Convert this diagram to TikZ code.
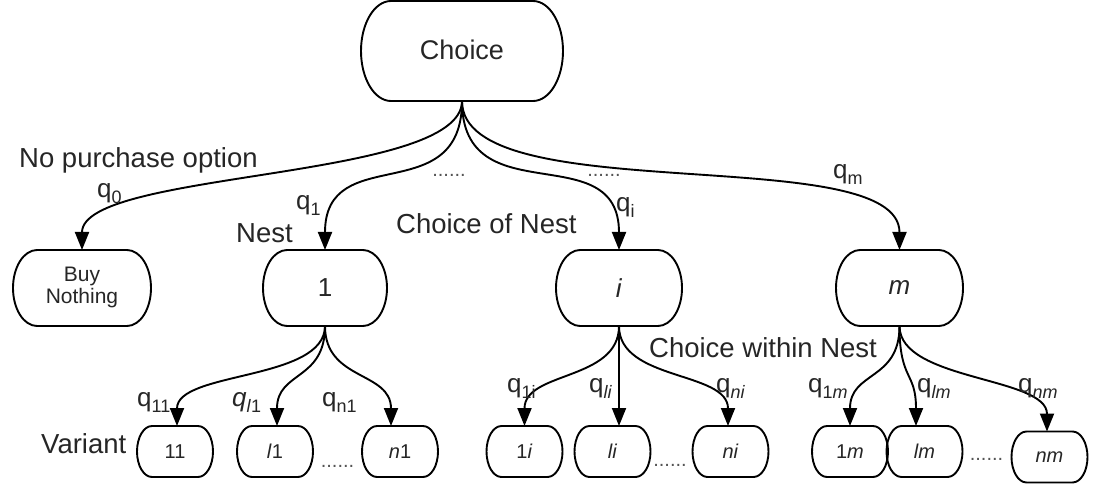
\documentclass[tikz,border=0pt]{standalone}
\usepackage{fontspec}
\setmainfont{Liberation Sans}
\usetikzlibrary{arrows.meta}
\definecolor{txt}{HTML}{262626}
\definecolor{dotc}{HTML}{555555}
\newcommand\sbs[1]{\raisebox{-6pt}{\fontsize{18}{20}\selectfont #1}}
% outline with half-elliptical ends: node name, x radius, y radius
\newcommand\eshape[3]{%
  \draw[boxline] ([xshift=#2]#1.north west) -- ([xshift=-#2]#1.north east)
    arc[start angle=90,end angle=-90,x radius=#2,y radius=#3]
    -- ([xshift=#2]#1.south west)
    arc[start angle=270,end angle=90,x radius=#2,y radius=#3] -- cycle;}
\begin{document}
\begin{tikzpicture}[x=1pt,y=-1pt,
  boxline/.style={draw=black, line width=1.9pt, line join=round},
  bigbox/.style={outer sep=0pt, minimum width=202pt, minimum height=100pt, inner sep=0pt, font=\fontsize{27}{32}\selectfont, text=txt},
  nestbox/.style={outer sep=0pt, minimum height=76pt, inner sep=0pt, font=\fontsize{26}{30}\selectfont, text=txt},
  varbox/.style={outer sep=0pt, minimum width=76pt, minimum height=51pt, inner sep=0pt, font=\fontsize{20}{24}\selectfont, text=txt},
  lbl/.style={inner sep=0pt, anchor=base west, font=\fontsize{27.5}{32}\selectfont, text=txt},
  qlab/.style={inner sep=0pt, anchor=base west, font=\fontsize{26}{30}\selectfont, text=txt},
  dotlab/.style={inner sep=0pt, anchor=base, font=\fontsize{20}{24}\selectfont, text=dotc},
  arr/.style={line width=1.9pt, -{Triangle[length=18pt,width=14pt]}}
]
\fill[white] (0,0) rectangle (1108,486);
\useasboundingbox (0,0) rectangle (1108,486);

% main nodes
\node[bigbox] (choice) at (462,51) {\raisebox{3pt}{Choice}};
\node[nestbox, minimum width=138pt, align=center, font=\fontsize{21}{25}\selectfont] (buy) at (82,288) {\raisebox{5pt}{\shortstack{Buy\\[-1pt]Nothing}}};
\node[nestbox, minimum width=124pt] (nest1) at (325,288) {1};
\node[nestbox, minimum width=126pt] (nesti) at (619,288) {\textit{i}};
\node[nestbox, minimum width=127pt] (nestm) at (899.5,288) {\textit{m}};

% variants
\node[varbox] (v11) at (175,451.5) {11};
\node[varbox] (vl1) at (275,451.5) {\textit{l}1};
\node[varbox] (vn1) at (400,451.5) {\textit{n}1};
\node[varbox] (v1i) at (524.5,451.5) {1\textit{i}};
\node[varbox] (vli) at (612.5,451.5) {\textit{li}};
\node[varbox] (vni) at (730.5,451.5) {\textit{ni}};
\node[varbox] (v1m) at (850,451.5) {1\textit{m}};
\node[varbox] (vlm) at (924.5,451.5) {\textit{lm}};
\node[varbox] (vnm) at (1049.5,457) {\textit{nm}};

% outlines
\eshape{choice}{30pt}{50pt}
\eshape{buy}{24pt}{38pt}
\eshape{nest1}{24pt}{38pt}
\eshape{nesti}{24pt}{38pt}
\eshape{nestm}{24pt}{38pt}
\foreach \v in {v11,vl1,vn1,v1i,vli,vni,v1m,vlm,vnm} {\eshape{\v}{15pt}{25.5pt}}

% top arrows
\draw[arr] (choice.south) .. controls +(0,80) and +(0,-80) .. (buy.north);
\draw[arr] (choice.south) .. controls +(0,110) and +(0,-110) .. (nest1.north);
\draw[arr] (choice.south) .. controls +(0,115) and +(0,-115) .. (nesti.north);
\draw[arr] (choice.south) .. controls +(0,110) and +(0,-110) .. (nestm.north);

% nest 1 arrows
\draw[arr] (nest1.south) .. controls +(0,55) and +(0,-55) .. ([xshift=2pt]v11.north);
\draw[arr] (nest1.south) .. controls +(0,55) and +(0,-55) .. ([xshift=2pt]vl1.north);
\draw[arr] (nest1.south) .. controls +(0,55) and +(0,-55) .. ([xshift=-9pt]vn1.north);

% nest i arrows
\draw[arr] (nesti.south) .. controls +(0,55) and +(0,-55) .. (v1i.north);
\draw[arr] (nesti.south) -- ([xshift=6.5pt]vli.north);
\draw[arr] (nesti.south) .. controls +(0,55) and +(0,-55) .. ([xshift=-2.5pt]vni.north);

% nest m arrows
\draw[arr] (nestm.south) .. controls +(0,55) and +(0,-55) .. (v1m.north);
\draw[arr] (nestm.south) .. controls +(0,55) and +(0,-55) .. ([xshift=-8.5pt]vlm.north);
\draw[arr] (nestm.south) .. controls +(0,55) and +(0,-55) .. ([xshift=-2.5pt]vnm.north);

% text labels
\node[lbl] (nopurch) at (19,168) {No purchase option};
\node[lbl] (nestlbl) at (236,243) {Nest};
\node[lbl] (choicenest) at (396,234) {Choice of Nest};
\node[lbl] (choicewithin) at (649,357) {Choice within Nest};
\node[lbl] (variant) at (41,453) {Variant};

% probabilities
\node[qlab] (q0) at (97,198) {q\sbs{0}};
\node[qlab] (q1) at (296,210) {q\sbs{1}};
\node[qlab] (qi) at (616,212) {q\sbs{i}};
\node[qlab] (qm) at (833,179) {q\sbs{m}};
\node[qlab] (q11) at (137,406) {q\sbs{11}};
\node[qlab] (ql1) at (232,406) {\textit{q}\sbs{\textit{l}1}};
\node[qlab] (qn1) at (322,406) {q\sbs{n1}};
\node[qlab] (q1i) at (507,392) {q\sbs{1i}};
\node[qlab] (qli) at (589,392) {q\sbs{\textit{li}}};
\node[qlab] (qni) at (716,392) {q\sbs{\textit{ni}}};
\node[qlab] (q1m) at (808,392) {q\sbs{1\textit{m}}};
\node[qlab] (qlm) at (917,392) {q\sbs{\textit{lm}}};
\node[qlab] (qnm) at (1018,392) {q\sbs{\textit{nm}}};

% dots
\node[dotlab] (d1) at (449,177) {......};
\node[dotlab] (d2) at (604,177) {......};
\node[dotlab] (d3) at (337.5,467.5) {......};
\node[dotlab] (d4) at (670,466.5) {......};
\node[dotlab] (d5) at (986.5,460.5) {......};
\end{tikzpicture}
\end{document}
